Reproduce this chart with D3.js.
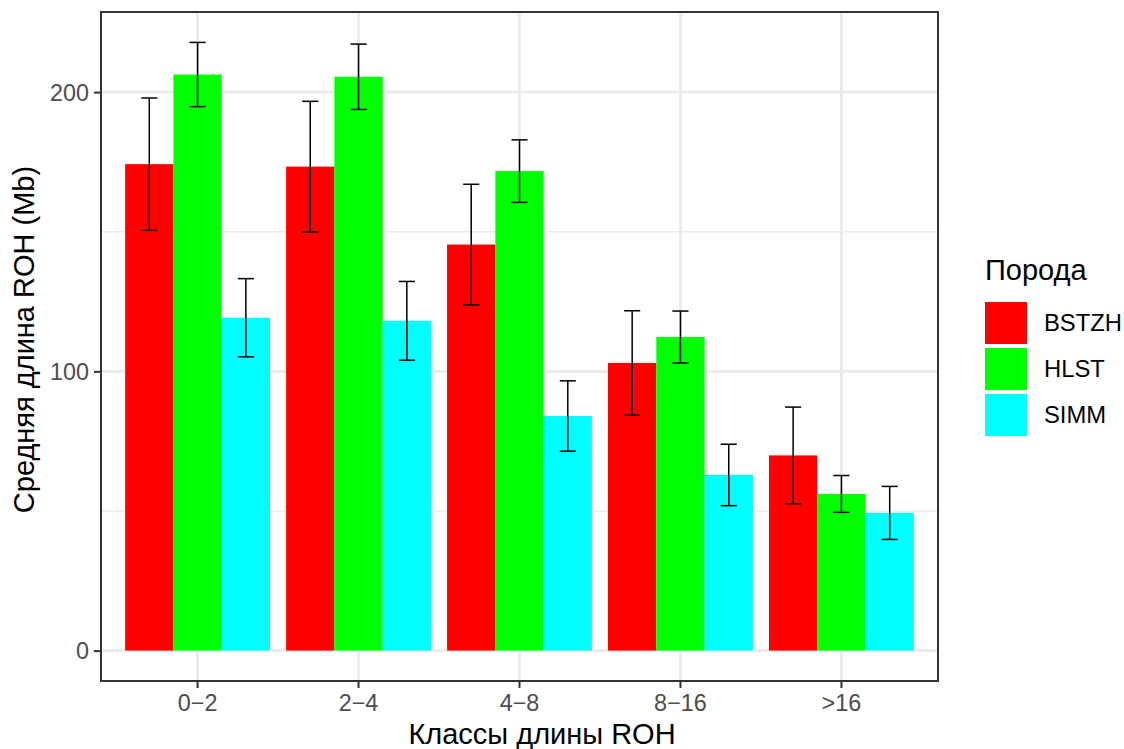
<!DOCTYPE html>
<html>
<head>
<meta charset="utf-8">
<script src="https://cdn.jsdelivr.net/npm/d3@7/dist/d3.min.js"></script>
<style>
  html, body { margin: 0; padding: 0; background: #fff; }
  svg { display: block; font-family: "Liberation Sans", Arial, sans-serif; }
</style>
</head>
<body>
<svg id="chart" width="1124" height="749"></svg>
<script>
// ROH length classes and breeds
const categories = ["0\u22122", "2\u22124", "4\u22128", "8\u221216", ">16"];
const breeds = ["BSTZH", "HLST", "SIMM"];
const colors = ["#FF0000", "#00FF00", "#00FFFF"];

// mean total ROH length (Mb) per class, by breed
const valuesBSTZH = [174.2, 173.3, 145.4, 103.0, 69.9];
const valuesHLST  = [206.3, 205.5, 171.7, 112.3, 56.1];
const valuesSIMM  = [119.2, 118.1, 84.0, 62.9, 49.3];

// half-width of the error bars (Mb)
const errBSTZH = [23.7, 23.4, 21.6, 18.7, 17.3];
const errHLST  = [11.5, 11.7, 11.2, 9.3, 6.6];
const errSIMM  = [14.0, 14.1, 12.6, 11.0, 9.5];

const yTicks = [0, 100, 200];
const yMinor = [50, 150];

const xTitle = "Классы длины ROH";
const yTitle = "Средняя длина ROH (Mb)";
const legendTitle = "Порода";

const seriesValues = [valuesBSTZH, valuesHLST, valuesSIMM];
const seriesErr = [errBSTZH, errHLST, errSIMM];

const rows = [];
categories.forEach((c, i) => {
  breeds.forEach((b, j) => {
    rows.push({ cat: c, breed: b, value: seriesValues[j][i], err: seriesErr[j][i], color: colors[j] });
  });
});

const svg = d3.select("#chart");
const panel = { left: 101, right: 938, top: 12, bottom: 681 };

// 5% expansion on the continuous axis
const yMaxData = d3.max(rows, d => d.value + d.err);
const span = yMaxData - 0;
const y = d3.scaleLinear()
  .domain([0 - span * 0.05, yMaxData + span * 0.05])
  .range([panel.bottom, panel.top]);

// discrete axis: 0.6 unit expansion each side
const x = d3.scaleBand()
  .domain(categories)
  .range([panel.left, panel.right])
  .paddingInner(0)
  .paddingOuter(0.1);

const groupW = x.bandwidth() * 0.9;
const xs = d3.scaleBand()
  .domain(breeds)
  .range([0, groupW])
  .padding(0);

const g = svg.append("g");

// background grid
g.selectAll("line.minor").data(yMinor).join("line")
  .attr("x1", panel.left).attr("x2", panel.right)
  .attr("y1", d => y(d)).attr("y2", d => y(d))
  .attr("stroke", "#EBEBEB").attr("stroke-width", 1.4);

g.selectAll("line.majorY").data(yTicks).join("line")
  .attr("x1", panel.left).attr("x2", panel.right)
  .attr("y1", d => y(d)).attr("y2", d => y(d))
  .attr("stroke", "#EBEBEB").attr("stroke-width", 2.8);

g.selectAll("line.majorX").data(categories).join("line")
  .attr("x1", d => x(d) + x.bandwidth() / 2).attr("x2", d => x(d) + x.bandwidth() / 2)
  .attr("y1", panel.top).attr("y2", panel.bottom)
  .attr("stroke", "#EBEBEB").attr("stroke-width", 2.8);

// bars
const groupLeft = d => x(d.cat) + (x.bandwidth() - groupW) / 2;
g.selectAll("rect.bar").data(rows).join("rect")
  .attr("x", d => groupLeft(d) + xs(d.breed))
  .attr("width", xs.bandwidth())
  .attr("y", d => y(d.value))
  .attr("height", d => y(0) - y(d.value))
  .attr("fill", d => d.color);

// error bars
const capW = x.bandwidth() * 0.1;
const eb = g.selectAll("g.err").data(rows).join("g")
  .attr("transform", d => `translate(${groupLeft(d) + xs(d.breed) + xs.bandwidth() / 2},0)`);
eb.append("line")
  .attr("x1", 0).attr("x2", 0)
  .attr("y1", d => y(d.value + d.err)).attr("y2", d => y(d.value - d.err))
  .attr("stroke", "#000").attr("stroke-width", 1.5);
eb.append("line")
  .attr("x1", -capW / 2).attr("x2", capW / 2)
  .attr("y1", d => y(d.value + d.err)).attr("y2", d => y(d.value + d.err))
  .attr("stroke", "#000").attr("stroke-width", 1.5);
eb.append("line")
  .attr("x1", -capW / 2).attr("x2", capW / 2)
  .attr("y1", d => y(d.value - d.err)).attr("y2", d => y(d.value - d.err))
  .attr("stroke", "#000").attr("stroke-width", 1.5);

// panel border
g.append("rect")
  .attr("x", panel.left).attr("y", panel.top)
  .attr("width", panel.right - panel.left).attr("height", panel.bottom - panel.top)
  .attr("fill", "none").attr("stroke", "#333333").attr("stroke-width", 2);

// axes
const tickLen = 7;
const yAxis = d3.axisLeft(y).tickValues(yTicks).tickSize(tickLen).tickPadding(5).tickFormat(d3.format("d"));
const yG = svg.append("g").attr("transform", `translate(${panel.left},0)`).call(yAxis);
const xAxis = d3.axisBottom(x).tickSize(tickLen).tickPadding(6);
const xG = svg.append("g").attr("transform", `translate(0,${panel.bottom})`).call(xAxis);

[yG, xG].forEach(ax => {
  ax.select(".domain").remove();
  ax.selectAll(".tick line").attr("stroke", "#333333").attr("stroke-width", 2);
  ax.selectAll(".tick text")
    .attr("fill", "#4D4D4D")
    .style("font-family", "'Liberation Sans', Arial, sans-serif")
    .style("font-size", "23.4px");
});
yG.selectAll(".tick text").attr("dy", "0.35em");
xG.selectAll(".tick text").attr("dy", "0.71em");

// axis titles
svg.append("text")
  .attr("x", 542).attr("y", 744)
  .attr("text-anchor", "middle")
  .style("font-size", "29px").attr("fill", "#000")
  .text(xTitle);

svg.append("text")
  .attr("transform", `translate(34,${(panel.top + panel.bottom) / 2 - 7}) rotate(-90)`)
  .attr("text-anchor", "middle")
  .style("font-size", "29px").attr("fill", "#000")
  .text(yTitle);

// legend
const lg = svg.append("g").attr("transform", "translate(985,0)");
lg.append("text")
  .attr("x", 0).attr("y", 280)
  .style("font-size", "29px").attr("fill", "#000")
  .text(legendTitle);
const keyStep = 46, keySize = 42, keyTop = 302;
const items = lg.selectAll("g.item").data(breeds).join("g")
  .attr("transform", (d, i) => `translate(0,${keyTop + i * keyStep})`);
items.append("rect")
  .attr("width", keySize).attr("height", keySize)
  .attr("fill", (d, i) => colors[i]);
items.append("text")
  .attr("x", 59).attr("y", keySize / 2).attr("dy", "0.35em")
  .style("font-size", "23.8px").attr("fill", "#000")
  .text(d => d);
</script>
</body>
</html>
